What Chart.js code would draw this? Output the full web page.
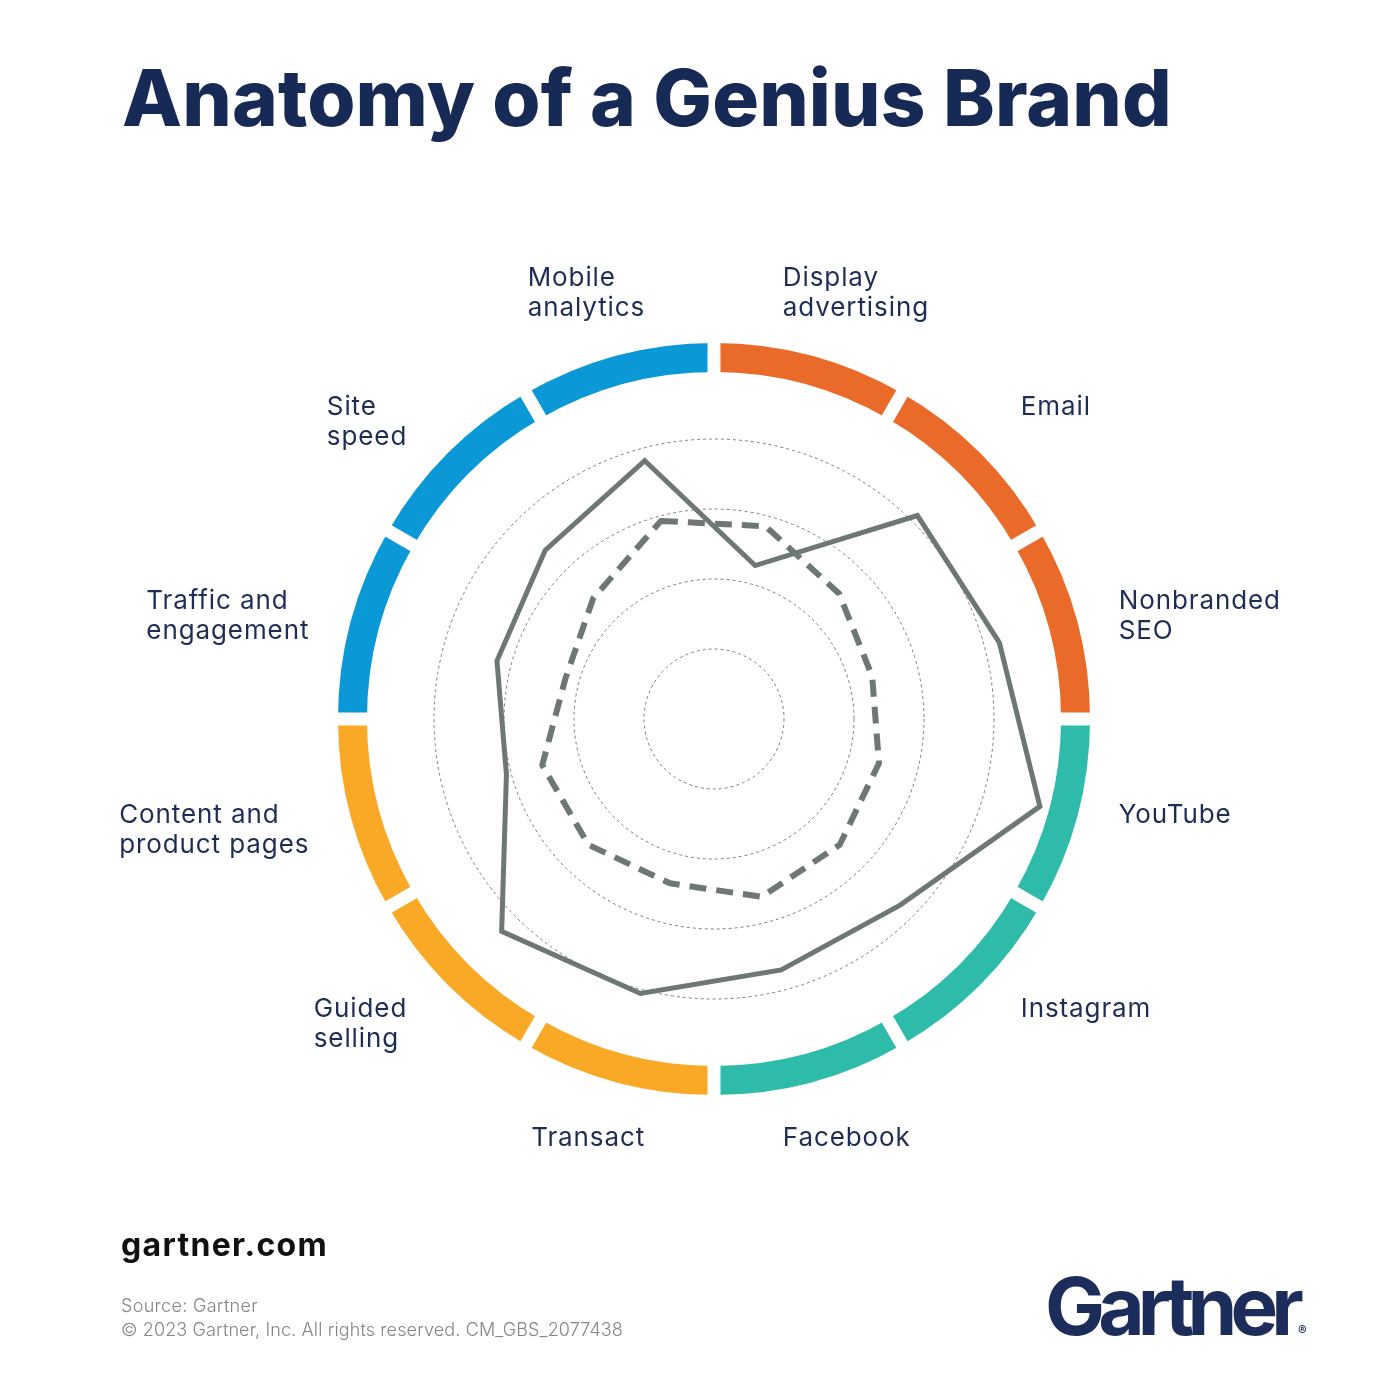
<!DOCTYPE html>
<html>
<head>
<meta charset="utf-8">
<title>Anatomy of a Genius Brand</title>
<script src="https://cdn.jsdelivr.net/npm/chart.js@4.4.1/dist/chart.umd.min.js"></script>
<style>
  html, body { margin: 0; padding: 0; background: #fff; }
  #page { position: relative; width: 1400px; height: 1400px; overflow: hidden; font-family: Inter, 'Noto Sans', sans-serif; }
  #radar { position: absolute; left: 0; top: 0; }
  .txt { position: absolute; white-space: nowrap; line-height: 1; }
  #title { left: 122px; top: 59px; font-size: 78px; font-weight: 800; color: #172a56; }
  #site { left: 121px; top: 1229px; font-size: 32px; font-weight: 700; color: #111; }
  #source { left: 121px; top: 1297px; font-size: 18px; font-weight: 300; color: #858585; }
  #copy { left: 121px; top: 1321px; font-size: 18px; font-weight: 300; color: #858585; }
  #logo { left: 1045px; top: 1266px; font-size: 80px; font-weight: 700; color: #1d2d5b; }
  #logo sup { font-size: 13px; font-weight: 700; vertical-align: baseline; margin-left: 1px; }
</style>
</head>
<body>
<div id="page">
  <canvas id="radar" width="1400" height="1400"></canvas>
  <div class="txt" id="title">Anatomy of a Genius Brand</div>
  <div class="txt" id="site">gartner.com</div>
  <div class="txt" id="source">Source: Gartner</div>
  <div class="txt" id="copy">© 2023 Gartner, Inc. All rights reserved. CM_GBS_2077438</div>
  <div class="txt" id="logo"><span id="logoWord">Gartner</span><sup>®</sup></div>
</div>
<script>
// axes, clockwise starting just left of 12 o'clock
var axisLabels = [
    ['Mobile', 'analytics'], ['Display', 'advertising'], 'Email', ['Nonbranded', 'SEO'],
    'YouTube', 'Instagram', 'Facebook', 'Transact',
    ['Guided', 'selling'], ['Content and', 'product pages'], ['Traffic and', 'engagement'], ['Site', 'speed']
];

// solid line
var geniusBrand = [3.82, 2.27, 4.11, 4.22, 4.82, 3.76, 3.71, 4.06, 4.29, 3.07, 3.21, 3.41];
// dashed line
var averageBrand = [2.93, 2.85, 2.53, 2.34, 2.44, 2.54, 2.63, 2.43, 2.54, 2.54, 2.2, 2.44];

var gridTicks = [1, 2, 3, 4];

var ringC = { 'blue': '#0a99d6', 'orange': '#ea6a29', 'teal': '#2fbbaa', 'yellow': '#f9a925' };
var ringColors = [ringC.blue, ringC.orange, ringC.orange, ringC.orange, ringC.teal, ringC.teal,
                  ringC.teal, ringC.yellow, ringC.yellow, ringC.yellow, ringC.blue, ringC.blue];

// coloured ring round the plot, one arc per axis
const ringPlugin = {
    id: 'ring',
    beforeDatasetsDraw(chart) {
        const r = chart.scales.r, ctx = chart.ctx;
        const n = chart.data.labels.length;
        const step = 2 * Math.PI / n;
        const mid = r.drawingArea * 1.033;
        const thick = 29;
        ctx.save();
        ctx.lineWidth = thick;
        ctx.lineCap = 'butt';
        for (let i = 0; i < n; i++) {
            const a = r.getIndexAngle(i) - Math.PI / 2;
            ctx.strokeStyle = ringColors[i];
            ctx.beginPath();
            ctx.arc(r.xCenter, r.yCenter, mid, a - step / 2, a + step / 2);
            ctx.stroke();
        }
        // white gaps with parallel sides
        ctx.strokeStyle = '#fff';
        ctx.lineWidth = 13;
        for (let i = 0; i < n; i++) {
            const a = r.getIndexAngle(i) - Math.PI / 2 + step / 2;
            const r0 = mid - thick, r1 = mid + thick;
            ctx.beginPath();
            ctx.moveTo(r.xCenter + r0 * Math.cos(a), r.yCenter + r0 * Math.sin(a));
            ctx.lineTo(r.xCenter + r1 * Math.cos(a), r.yCenter + r1 * Math.sin(a));
            ctx.stroke();
        }
        ctx.restore();
    }
};

// labels outside the ring, lines left aligned, block edge nearest the chart kept on a curve
const labelPlugin = {
    id: 'outerLabels',
    afterDraw(chart) {
        const r = chart.scales.r, ctx = chart.ctx;
        const R = r.drawingArea;
        ctx.save();
        ctx.font = '400 26px Inter, "Noto Sans", sans-serif';
        ctx.letterSpacing = '0.9px';
        ctx.fillStyle = '#1f2d55';
        ctx.textBaseline = 'alphabetic';
        ctx.textAlign = 'left';
        const lh = 30, capH = 19;
        chart.data.labels.forEach(function (label, i) {
            const lines = [].concat(label);
            const ang = r.getIndexAngle(i);
            const s = Math.sin(ang), c = Math.cos(ang), s2 = Math.abs(Math.sin(2 * ang));
            const edge = R * (1.357 * Math.abs(s) + 0.143 * s2 - 0.226);
            const rowY = R * (1.306 * Math.abs(c) - 0.064 * s2);
            const w = Math.max.apply(null, lines.map(t => ctx.measureText(t).width));
            const left = s >= 0 ? r.xCenter + edge : r.xCenter - edge - w;
            const firstMid = r.yCenter - R * 0.036 + (c > 0 ? -rowY : rowY);
            lines.forEach((t, k) => ctx.fillText(t, left, firstMid + capH / 2 + k * lh));
        });
        ctx.restore();
    }
};

var radarData = {
    labels: axisLabels,
    datasets: [{
        label: 'Genius brand',
        data: geniusBrand,
        borderColor: '#6e7775',
        borderWidth: 5,
        backgroundColor: 'transparent',
        fill: false,
        pointRadius: 0,
        borderJoinStyle: 'miter'
    }, {
        label: 'Average brand',
        data: averageBrand,
        borderColor: '#6e7775',
        borderWidth: 6,
        borderDash: [17, 10],
        backgroundColor: 'transparent',
        fill: false,
        pointRadius: 0,
        borderJoinStyle: 'round'
    }]
};

var radarOptions = {
    responsive: false,
    animation: false,
    layout: { padding: { left: 364, right: 336, top: 369, bottom: 331 } },
    plugins: { legend: { display: false }, tooltip: { enabled: false } },
    scales: {
        r: {
            min: 0,
            max: 5,
            startAngle: -15,
            ticks: { display: false, stepSize: 1 },
            angleLines: { display: false },
            pointLabels: { display: false },
            grid: {
                circular: true,
                lineWidth: 1,
                color: function (c) { return gridTicks.indexOf(c.tick.value) >= 0 ? '#7c7c7c' : 'transparent'; }
            },
            border: { dash: [3, 3] }
        }
    }
};

new Chart(document.getElementById('radar').getContext('2d'), {
    type: 'radar', data: radarData, options: radarOptions, plugins: [ringPlugin, labelPlugin]
});

// stretch/shrink html text to the widths seen on the original
function fitWidth(el, target) {
    el.style.display = 'inline-block';
    el.style.letterSpacing = '0px';
    const w = el.getBoundingClientRect().width;
    const n = el.textContent.length;
    el.style.letterSpacing = ((target - w) / n) + 'px';
}
fitWidth(document.getElementById('title'), 1050);
fitWidth(document.getElementById('site'), 207);
fitWidth(document.getElementById('copy'), 502);
fitWidth(document.getElementById('source'), 137);
fitWidth(document.getElementById('logoWord'), 252);
</script>
</body>
</html>
